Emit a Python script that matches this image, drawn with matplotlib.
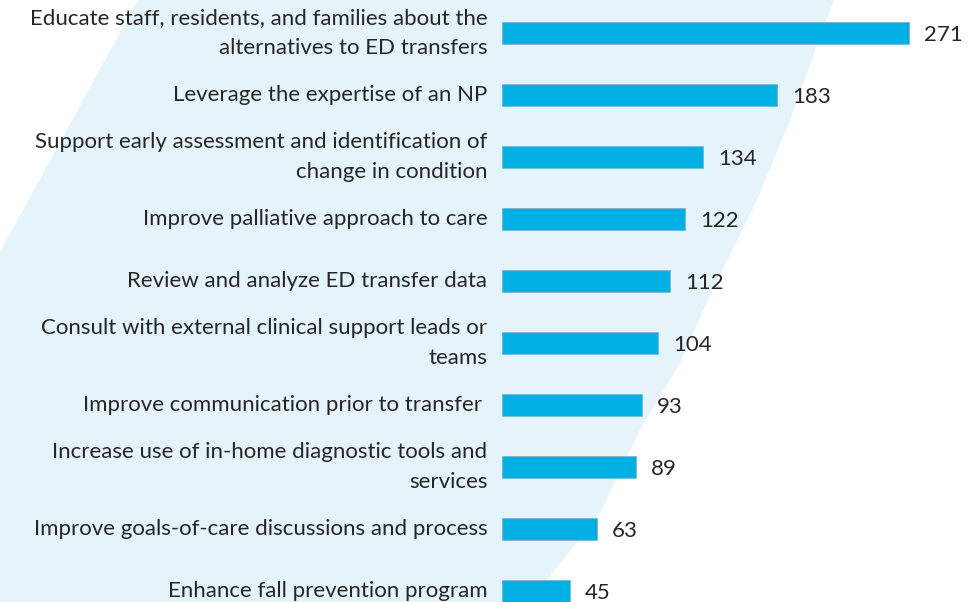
import matplotlib
matplotlib.use('Agg')
import matplotlib.pyplot as plt
from matplotlib.patches import Polygon

labels = [
    'Educate staff, residents, and families about the\nalternatives to ED transfers',
    'Leverage the expertise of an NP',
    'Support early assessment and identification of\nchange in condition',
    'Improve palliative approach to care',
    'Review and analyze ED transfer data',
    'Consult with external clinical support leads or\nteams',
    'Improve communication prior to transfer ',
    'Increase use of in-home diagnostic tools and\nservices',
    'Improve goals-of-care discussions and process',
    'Enhance fall prevention program',
]
counts = [271, 183, 134, 122, 112, 104, 93, 89, 63, 45]

BAR_COLOR = '#00b0e2'
BAND_COLOR = '#e5f3fb'
TEXT_COLOR = '#262626'

W, H = 979, 602
plt.rcParams['font.family'] = ['Lato', 'DejaVu Sans']
fig = plt.figure(figsize=(W / 100, H / 100), dpi=100)

# light diagonal band in the background (pixel outline, y from top)
band_px = [(138, 0), (834, 0), (817, 45), (790, 120), (757, 200), (710, 295),
           (680, 363), (640, 430), (600, 513), (547, 580), (534, 602),
           (0, 602), (0, 252)]
bg = fig.add_axes([0, 0, 1, 1], zorder=0)
bg.set_axis_off()
bg.add_patch(Polygon([(x / W, 1 - y / H) for x, y in band_px], closed=True,
                     transform=bg.transAxes, facecolor=BAND_COLOR,
                     edgecolor='none'))

ax = fig.add_axes([502 / W, 0, 477 / W, 1], zorder=1)
ax.patch.set_alpha(0)
y = range(len(counts))
ax.barh(y, counts, height=0.35, color=BAR_COLOR,
        edgecolor='#7fb6cc', linewidth=0.6)
ax.set_xlim(0, 477 / 1.502)
ax.set_ylim(9 + 11 / 62, -33 / 62)

ax.set_yticks(list(y))
ax.set_yticklabels(labels, fontsize=16, color=TEXT_COLOR, ha='right',
                   va='center', multialignment='right', linespacing=1.62)
ax.tick_params(axis='y', length=0, pad=10.5)
ax.set_xticks([])
for s in ax.spines.values():
    s.set_visible(False)

for i, v in enumerate(counts):
    ax.annotate(str(v), (v, i), xytext=(11, -1.5), textcoords='offset points',
                va='center', ha='left', fontsize=16, color=TEXT_COLOR)

fig.savefig('out.png', dpi=100)
